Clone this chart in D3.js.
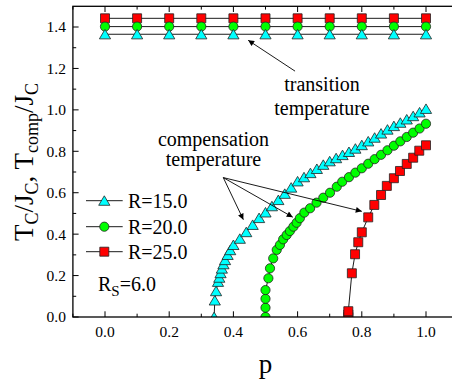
<!DOCTYPE html>
<html>
<head>
<meta charset="utf-8">
<script src="https://cdn.jsdelivr.net/npm/d3@7"></script>
<style>
  html, body { margin: 0; padding: 0; background: #fff; }
  svg { display: block; }
</style>
</head>
<body>
<div id="chart"></div>
<script>
// transition temperature (upper flat lines)
const transP = [0.0, 0.1, 0.2, 0.3, 0.4, 0.5, 0.6, 0.7, 0.8, 0.9, 1.0];
const transR15 = [1.365, 1.365, 1.365, 1.365, 1.365, 1.365, 1.365, 1.365, 1.365, 1.365, 1.365];
const transR20 = [1.402, 1.402, 1.402, 1.402, 1.402, 1.402, 1.402, 1.402, 1.402, 1.402, 1.402];
const transR25 = [1.442, 1.442, 1.442, 1.442, 1.442, 1.442, 1.442, 1.442, 1.442, 1.442, 1.442];

// compensation temperature curves
const compP15 = [0.340, 0.342, 0.346, 0.352, 0.356, 0.360, 0.364, 0.369, 0.374, 0.382, 0.390, 0.40,
  0.42, 0.44, 0.46, 0.48, 0.50, 0.52, 0.54, 0.56, 0.58, 0.60, 0.62, 0.64, 0.66, 0.68, 0.70,
  0.72, 0.74, 0.76, 0.78, 0.80, 0.82, 0.84, 0.86, 0.88, 0.90, 0.92, 0.94, 0.96, 0.98, 1.00];
const compT15 = [0.0, 0.08, 0.125, 0.17, 0.19, 0.212, 0.234, 0.255, 0.275, 0.30, 0.323, 0.348,
  0.378, 0.41, 0.445, 0.478, 0.505, 0.535, 0.565, 0.595, 0.625, 0.655, 0.675, 0.695, 0.715, 0.735, 0.752,
  0.767, 0.782, 0.797, 0.813, 0.83, 0.848, 0.866, 0.886, 0.905, 0.922, 0.938, 0.954, 0.970, 0.988, 1.005];

const compP20 = [0.50, 0.50, 0.50, 0.50, 0.509, 0.514, 0.524, 0.535, 0.545, 0.555, 0.566, 0.576,
  0.587, 0.597, 0.607, 0.621, 0.639, 0.659, 0.680, 0.701, 0.722, 0.739, 0.76, 0.78, 0.80, 0.82,
  0.84, 0.86, 0.88, 0.90, 0.92, 0.94, 0.96, 0.98, 1.00];
const compT20 = [0.0, 0.045, 0.088, 0.130, 0.187, 0.235, 0.283, 0.324, 0.348, 0.375, 0.396, 0.415,
  0.436, 0.455, 0.477, 0.504, 0.525, 0.552, 0.576, 0.600, 0.629, 0.653, 0.675, 0.697, 0.718, 0.74,
  0.762, 0.783, 0.805, 0.827, 0.848, 0.869, 0.89, 0.91, 0.933];

const compP25 = [0.758, 0.758, 0.758, 0.769, 0.779, 0.789, 0.80, 0.82, 0.839, 0.86, 0.878, 0.90,
  0.919, 0.94, 0.96, 0.979, 1.00];
const compT25 = [0.0, 0.012, 0.028, 0.211, 0.303, 0.361, 0.409, 0.481, 0.541, 0.589, 0.633, 0.670,
  0.705, 0.739, 0.769, 0.803, 0.829];

const seriesNames = ['R=15.0', 'R=20.0', 'R=25.0'];
const seriesColors = ['#00ffff', '#00ff00', '#ff0000'];
const seriesShapes = ['triangle', 'circle', 'square'];

const xTicks = [0.0, 0.2, 0.4, 0.6, 0.8, 1.0];
const yTicks = [0.0, 0.2, 0.4, 0.6, 0.8, 1.0, 1.2, 1.4];

const FONT = '"Liberation Serif"';
const width = 452, height = 385;
const x = d3.scaleLinear().domain([-0.1, 1.1]).range([72.9, 458.1]);
const y = d3.scaleLinear().domain([0, 1.5]).range([317, 6.3]);

const svg = d3.select('#chart').append('svg')
  .attr('width', width)
  .attr('height', height);

// every text gets the serif face directly
function txt(sel) {
  return sel.append('text').style('font-family', FONT);
}

const defs = svg.append('defs');
defs.append('clipPath').attr('id', 'plot-clip')
  .append('rect')
  .attr('x', x(-0.1)).attr('y', y(1.5))
  .attr('width', x(1.1) - x(-0.1)).attr('height', y(0) - y(1.5));

defs.append('marker')
  .attr('id', 'arrow')
  .attr('viewBox', '0 0 10 10')
  .attr('refX', 10).attr('refY', 5)
  .attr('markerWidth', 8).attr('markerHeight', 6)
  .attr('markerUnits', 'userSpaceOnUse')
  .attr('orient', 'auto')
  .append('path')
  .attr('d', 'M0,0 L10,5 L0,10 Z')
  .attr('fill', '#000');

function symbolPath(shape) {
  if (shape === 'triangle') return 'M0,-4.9L5.6,4.6L-5.6,4.6Z';
  if (shape === 'square') return 'M-4.5,-4.5H4.5V4.5H-4.5Z';
  return d3.symbol(d3.symbolCircle, Math.PI * 4.6 * 4.6)();
}

// ticks (all inward)
const majorLen = 5.7, minorLen = 3.3;
const axisG = svg.append('g').attr('stroke', '#000').attr('stroke-width', 1);
const xMinor = d3.range(-0.1, 1.11, 0.1).map(v => +v.toFixed(2));
const yMinor = d3.range(0.1, 1.5, 0.2).map(v => +v.toFixed(2));

xMinor.forEach(v => {
  const isMajor = xTicks.some(t => Math.abs(t - v) < 1e-6);
  const len = isMajor ? majorLen : minorLen;
  axisG.append('line').attr('x1', x(v)).attr('x2', x(v)).attr('y1', y(0)).attr('y2', y(0) - len);
  axisG.append('line').attr('x1', x(v)).attr('x2', x(v)).attr('y1', y(1.5)).attr('y2', y(1.5) + len);
});
yTicks.forEach(v => {
  axisG.append('line').attr('y1', y(v)).attr('y2', y(v)).attr('x1', x(-0.1)).attr('x2', x(-0.1) + majorLen);
  axisG.append('line').attr('y1', y(v)).attr('y2', y(v)).attr('x1', x(1.1)).attr('x2', x(1.1) - majorLen);
});
yMinor.forEach(v => {
  axisG.append('line').attr('y1', y(v)).attr('y2', y(v)).attr('x1', x(-0.1)).attr('x2', x(-0.1) + minorLen);
  axisG.append('line').attr('y1', y(v)).attr('y2', y(v)).attr('x1', x(1.1)).attr('x2', x(1.1) - minorLen);
});

// tick labels
svg.append('g').selectAll('text').data(xTicks).enter().append('text')
  .style('font-family', FONT)
  .attr('x', d => x(d)).attr('y', 336.5)
  .attr('text-anchor', 'middle')
  .style('font-size', '15.5px')
  .text(d => d.toFixed(1));
svg.append('g').selectAll('text').data(yTicks).enter().append('text')
  .style('font-family', FONT)
  .attr('x', x(-0.1) - 7).attr('y', d => y(d))
  .attr('dy', '0.35em')
  .attr('text-anchor', 'end')
  .style('font-size', '15.5px')
  .text(d => d.toFixed(1));

// axis titles
txt(svg)
  .attr('x', x(0.5)).attr('y', 373)
  .attr('text-anchor', 'middle')
  .style('font-size', '27px')
  .text('p');

const yTitle = txt(svg)
  .attr('transform', 'translate(33,162) rotate(-90)')
  .attr('text-anchor', 'middle')
  .style('font-size', '27px');
yTitle.append('tspan').text('T');
yTitle.append('tspan').attr('dy', 5).style('font-size', '18px').text('C');
yTitle.append('tspan').attr('dy', -5).text('/J');
yTitle.append('tspan').attr('dy', 5).style('font-size', '18px').text('C');
yTitle.append('tspan').attr('dy', -5).text(', T');
yTitle.append('tspan').attr('dy', 5).style('font-size', '18px').text('comp');
yTitle.append('tspan').attr('dy', -5).text('/J');
yTitle.append('tspan').attr('dy', 5).style('font-size', '18px').text('C');

// data
const plot = svg.append('g').attr('clip-path', 'url(#plot-clip)');
const line = d3.line().x(d => x(d[0])).y(d => y(d[1]));

const compSeries = [
  { p: compP15, t: compT15, i: 0 },
  { p: compP20, t: compT20, i: 1 },
  { p: compP25, t: compT25, i: 2 }
];
const transSeries = [
  { p: transP, t: transR25, i: 2 },
  { p: transP, t: transR20, i: 1 },
  { p: transP, t: transR15, i: 0 }
];

function drawSeries(s) {
  const pts = s.p.map((p, k) => [p, s.t[k]]);
  plot.append('path')
    .attr('d', line(pts))
    .attr('fill', 'none')
    .attr('stroke', '#000')
    .attr('stroke-width', 0.9);
  plot.append('g').selectAll('path').data(pts).enter().append('path')
    .attr('transform', d => `translate(${x(d[0])},${y(d[1])})`)
    .attr('d', symbolPath(seriesShapes[s.i]))
    .attr('fill', seriesColors[s.i])
    .attr('stroke', '#222')
    .attr('stroke-width', 0.8);
}
transSeries.forEach(drawSeries);
compSeries.forEach(drawSeries);

// frame
svg.append('rect')
  .attr('x', x(-0.1)).attr('y', y(1.5))
  .attr('width', x(1.1) - x(-0.1)).attr('height', y(0) - y(1.5))
  .attr('fill', 'none')
  .attr('stroke', '#000')
  .attr('stroke-width', 1.3);

// annotations
const annot = svg.append('g');
function note(px, v, label) {
  txt(annot).attr('x', x(px)).attr('y', y(v))
    .attr('text-anchor', 'middle')
    .style('font-size', '20px')
    .text(label);
}
note(0.676, 1.089, 'transition');
note(0.676, 0.973, 'temperature');
note(0.338, 0.826, 'compensation');
note(0.338, 0.729, 'temperature');

const arrows = [
  [[0.592, 1.187], [0.446, 1.336]],
  [[0.3685, 0.673], [0.431, 0.47]],
  [[0.3685, 0.673], [0.585, 0.482]],
  [[0.3685, 0.673], [0.80, 0.51]]
];
svg.append('g').selectAll('line').data(arrows).enter().append('line')
  .attr('x1', d => x(d[0][0])).attr('y1', d => y(d[0][1]))
  .attr('x2', d => x(d[1][0])).attr('y2', d => y(d[1][1]))
  .attr('stroke', '#000')
  .attr('stroke-width', 0.9)
  .attr('marker-end', 'url(#arrow)');

// legend
const legendRows = [200.7, 226.7, 251.7];
const legend = svg.append('g');
seriesNames.forEach((name, i) => {
  const row = legend.append('g').attr('transform', `translate(0,${legendRows[i]})`);
  row.append('line').attr('x1', 86).attr('x2', 122.7).attr('y1', 0).attr('y2', 0)
    .attr('stroke', '#000').attr('stroke-width', 0.9);
  row.append('path')
    .attr('transform', 'translate(104.3,0)')
    .attr('d', symbolPath(seriesShapes[i]))
    .attr('fill', seriesColors[i])
    .attr('stroke', '#222')
    .attr('stroke-width', 0.8);
  txt(row).attr('x', 128).attr('y', 7).style('font-size', '20px').text(name);
});

const rs = txt(svg).attr('x', 98).attr('y', 290.5).style('font-size', '20px');
rs.append('tspan').text('R');
rs.append('tspan').attr('dy', 5).style('font-size', '15px').text('S');
rs.append('tspan').attr('dy', -5).text('=6.0');
</script>
</body>
</html>
